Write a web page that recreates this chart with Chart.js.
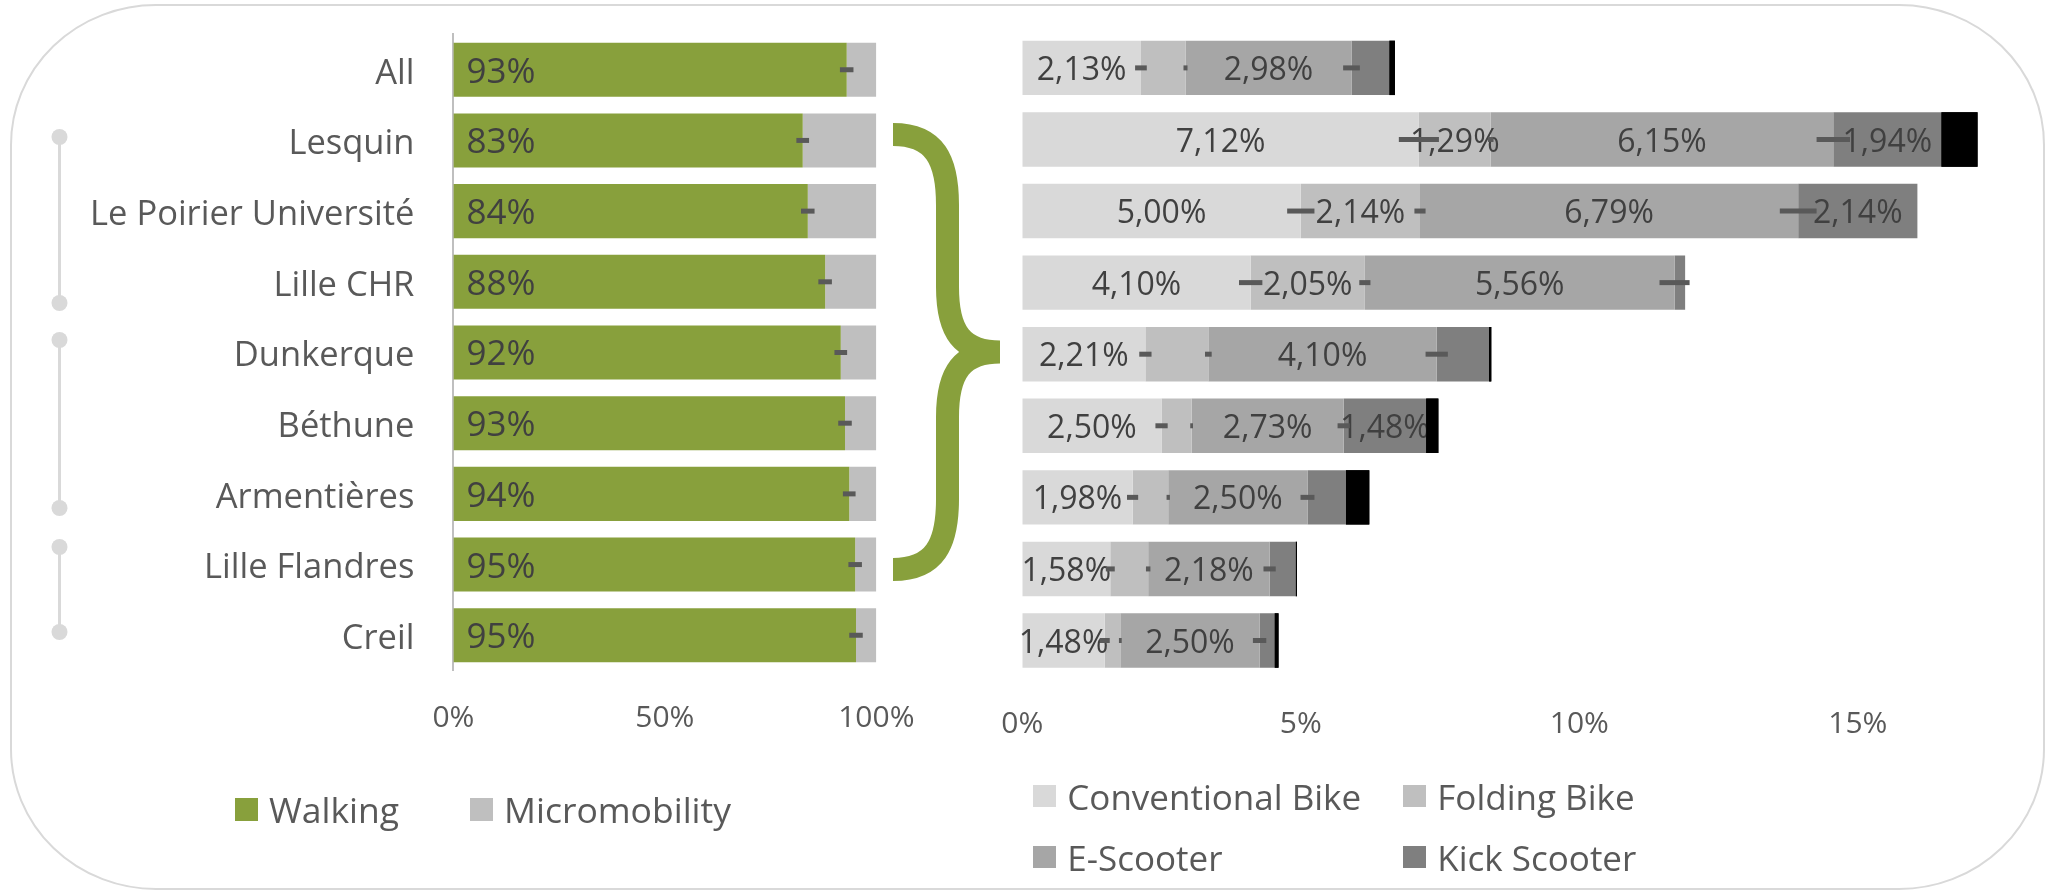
<!DOCTYPE html>
<html lang="en">
<head>
<meta charset="UTF-8">
<title>Walking and micromobility by station</title>
<script src="https://cdn.jsdelivr.net/npm/chart.js@4.4.1/dist/chart.umd.min.js"></script>
<style>
  html, body { margin: 0; padding: 0; background: #fff; }
  body { width: 2056px; height: 892px; position: relative; overflow: hidden; font-family: "Open Sans", sans-serif; color: #595959; }
  .layer { position: absolute; left: 0; top: 0; }
  .key { position: absolute; height: 50px; display: flex; align-items: center; white-space: nowrap; }
  .key span.box { display: inline-block; flex: none; }
</style>
</head>
<body>
<svg class="layer" width="2056" height="892">
  <!-- frame -->
  <rect x="11" y="5" width="2033" height="884" rx="145" ry="140" fill="none" stroke="#d9d9d9" stroke-width="2"/>
  <!-- station groups -->
  <g stroke="#d9d9d9" stroke-width="3" fill="#d9d9d9">
    <line x1="59.5" y1="137" x2="59.5" y2="303"/>
    <circle cx="59.5" cy="137" r="8" stroke="none"/>
    <circle cx="59.5" cy="303" r="8" stroke="none"/>
    <line x1="59.5" y1="340" x2="59.5" y2="508"/>
    <circle cx="59.5" cy="340" r="8" stroke="none"/>
    <circle cx="59.5" cy="508" r="8" stroke="none"/>
    <line x1="59.5" y1="547" x2="59.5" y2="632"/>
    <circle cx="59.5" cy="547" r="8" stroke="none"/>
    <circle cx="59.5" cy="632" r="8" stroke="none"/>
  </g>
  <!-- brace linking the micromobility share to its split -->
  <path d="M 893 134.5 C 935 134.5, 947.5 160, 947.5 205 L 947.5 287 C 947.5 332, 962 352, 1000 352 C 962 352, 947.5 372, 947.5 417 L 947.5 499 C 947.5 544, 935 569.5, 893 569.5"
        fill="none" stroke="#88a03c" stroke-width="23"/>
</svg>
<canvas id="shareChart" class="layer" width="2056" height="892"></canvas>
<canvas id="modeChart" class="layer" width="2056" height="892"></canvas>
<div id="keys"></div>
<script>
const categories = ['All', 'Lesquin', 'Le Poirier Université', 'Lille CHR', 'Dunkerque', 'Béthune', 'Armentières', 'Lille Flandres', 'Creil'];

// share of trips, %
const walking = [93.0, 82.6, 83.8, 87.9, 91.6, 92.6, 93.6, 95.0, 95.2];
const micromobility = [7.0, 17.4, 16.2, 12.1, 8.4, 7.4, 6.4, 5.0, 4.8];
const walkingErr = [1.6, 1.5, 1.6, 1.6, 1.5, 1.6, 1.5, 1.6, 1.6];

// micromobility split, % of all trips
const conventionalBike = [2.13, 7.12, 5.00, 4.10, 2.21, 2.50, 1.98, 1.58, 1.48];
const foldingBike = [0.80, 1.29, 2.14, 2.05, 1.13, 0.54, 0.64, 0.68, 0.28];
const eScooter = [2.98, 6.15, 6.79, 5.56, 4.10, 2.73, 2.50, 2.18, 2.50];
const kickScooter = [0.68, 1.94, 2.14, 0.19, 0.94, 1.48, 0.69, 0.47, 0.27];
const otherMode = [0.10, 0.65, 0, 0, 0.04, 0.22, 0.42, 0.02, 0.07];

const conventionalErr = [0.105, 0.36, 0.245, 0.21, 0.11, 0.11, 0.10, 0.08, 0.09];
const foldingErr = [0.036, 0.05, 0.10, 0.10, 0.06, 0.025, 0.03, 0.04, 0.025];
const eScooterErr = [0.15, 0.30, 0.33, 0.27, 0.20, 0.11, 0.125, 0.11, 0.12];

const shareTicks = [0, 50, 100];
const modeTicks = [0, 5, 10, 15];

const GREEN = '#88a03c';
const FONT = 'Open Sans';
const TEXT = '#595959';
const LABEL = '#404040';
const ERR = '#595959';

const shareKeys = [['Walking', GREEN], ['Micromobility', '#bfbfbf']];
const modeKeys = [['Conventional Bike', '#d9d9d9'], ['Folding Bike', '#bfbfbf'], ['E-Scooter', '#a6a6a6'], ['Kick Scooter', '#7f7f7f']];

function errorBar(ctx, xs, y, lo, hi) {
  ctx.beginPath();
  ctx.moveTo(xs.getPixelForValue(lo), y);
  ctx.lineTo(xs.getPixelForValue(hi), y);
  ctx.stroke();
}

// percentage inside the walking bar + error marker at its end
const shareOverlay = {
  id: 'shareOverlay',
  afterDatasetsDraw(chart) {
    const ctx = chart.ctx, xs = chart.scales.x;
    const bars = chart.getDatasetMeta(0).data;
    ctx.save();
    ctx.font = '35px "' + FONT + '"';
    ctx.fillStyle = LABEL;
    ctx.textAlign = 'left';
    ctx.textBaseline = 'middle';
    bars.forEach((bar, i) => {
      ctx.fillText(Math.round(walking[i]) + '%', bar.base + 13, bar.y + 3);
    });
    ctx.strokeStyle = ERR;
    ctx.lineWidth = 5;
    bars.forEach((bar, i) => {
      errorBar(ctx, xs, bar.y, walking[i] - walkingErr[i], walking[i] + walkingErr[i]);
    });
    ctx.restore();
  }
};

const modeSeries = [conventionalBike, foldingBike, eScooter, kickScooter, otherMode];
const modeErrors = [conventionalErr, foldingErr, eScooterErr];

const modeOverlay = {
  id: 'modeOverlay',
  afterDatasetsDraw(chart) {
    const ctx = chart.ctx, xs = chart.scales.x;
    ctx.save();
    ctx.font = '32px "' + FONT + '"';
    ctx.fillStyle = LABEL;
    ctx.textAlign = 'center';
    ctx.textBaseline = 'middle';
    for (let d = 0; d < 4; d++) {
      chart.getDatasetMeta(d).data.forEach((bar, i) => {
        const v = modeSeries[d][i];
        if (v < 1.2) return;
        ctx.fillText(v.toFixed(2).replace('.', ',') + '%', (bar.x + bar.base) / 2, bar.y + 3);
      });
    }
    ctx.strokeStyle = ERR;
    ctx.lineWidth = 5;
    categories.forEach((c, i) => {
      const y = chart.getDatasetMeta(0).data[i].y;
      let end = 0;
      modeErrors.forEach((err, d) => {
        end += modeSeries[d][i];
        errorBar(ctx, xs, y, end - err[i], end + err[i]);
      });
    });
    // the last stack segment sits above the labels
    chart.getDatasetMeta(4).data.forEach(el => el.draw(ctx));
    ctx.restore();
  }
};

const hidden = { legend: { display: false }, tooltip: { enabled: false } };

// fixed scale size, and no label overhang pushing the plot area in
function fixSize(w, h) {
  return s => {
    if (w !== null) s.width = w;
    if (h !== null) s.height = h;
    s.paddingTop = s.paddingBottom = s.paddingLeft = s.paddingRight = 0;
  };
}

new Chart(document.getElementById('shareChart'), {
  type: 'bar',
  data: {
    labels: categories,
    datasets: [
      { label: 'Walking', data: walking, backgroundColor: GREEN },
      { label: 'Micromobility', data: micromobility, backgroundColor: '#bfbfbf' }
    ]
  },
  options: {
    indexAxis: 'y',
    responsive: false,
    animation: false,
    devicePixelRatio: 1,
    layout: { padding: { top: 34.4, right: 2056 - 876.3, left: 0, bottom: 0 } },
    datasets: { bar: { barPercentage: 0.764, categoryPercentage: 1 } },
    plugins: hidden,
    scales: {
      x: {
        stacked: true, min: 0, max: 100,
        grid: { display: false, drawTicks: false },
        border: { display: false },
        afterBuildTicks: s => { s.ticks = shareTicks.map(v => ({ value: v })); },
        afterFit: fixSize(null, 892 - 670.6),
        ticks: { padding: 30, color: TEXT, font: { family: FONT, size: 30 }, callback: v => v + '%' }
      },
      y: {
        stacked: true,
        grid: { display: false, drawTicks: false },
        border: { display: true, color: '#bfbfbf', width: 2 },
        afterFit: fixSize(453.4, null),
        ticks: { padding: 39, labelOffset: 4, color: TEXT, font: { family: FONT, size: 34.5 } }
      }
    }
  },
  plugins: [shareOverlay]
});

new Chart(document.getElementById('modeChart'), {
  type: 'bar',
  data: {
    labels: categories,
    datasets: [
      { label: 'Conventional Bike', data: conventionalBike, backgroundColor: '#d9d9d9' },
      { label: 'Folding Bike', data: foldingBike, backgroundColor: '#bfbfbf' },
      { label: 'E-Scooter', data: eScooter, backgroundColor: '#a6a6a6' },
      { label: 'Kick Scooter', data: kickScooter, backgroundColor: '#7f7f7f' },
      { label: 'Other', data: otherMode, backgroundColor: '#000000' }
    ]
  },
  options: {
    indexAxis: 'y',
    responsive: false,
    animation: false,
    devicePixelRatio: 1,
    layout: { padding: { top: 32.1, right: 2056 - 1997.05, left: 1022.3, bottom: 0 } },
    datasets: { bar: { barPercentage: 0.76, categoryPercentage: 1 } },
    plugins: hidden,
    scales: {
      x: {
        stacked: true, min: 0, max: 17.5,
        grid: { display: false, drawTicks: false },
        border: { display: false },
        afterBuildTicks: s => { s.ticks = modeTicks.map(v => ({ value: v })); },
        afterFit: fixSize(null, 892 - 676.3),
        ticks: { padding: 30, color: TEXT, font: { family: FONT, size: 30 }, callback: v => v + '%' }
      },
      y: { stacked: true, display: false }
    }
  },
  plugins: [modeOverlay]
});

// legends
function addKey(name, colour, left, cy, box, gap, size) {
  const el = document.createElement('div');
  el.className = 'key';
  el.style.left = left + 'px';
  el.style.top = (cy - 25) + 'px';
  el.style.fontSize = size + 'px';
  el.innerHTML = '<span class="box" style="width:' + box + 'px;height:' + box + 'px;background:' + colour +
    ';margin-right:' + gap + 'px"></span><span>' + name + '</span>';
  document.getElementById('keys').appendChild(el);
}
addKey(shareKeys[0][0], shareKeys[0][1], 235, 809, 23, 11, 35.5);
addKey(shareKeys[1][0], shareKeys[1][1], 470, 809, 23, 11, 35.5);
modeKeys.forEach(([name, colour], i) => {
  addKey(name, colour, i % 2 ? 1403.3 : 1033.3, i < 2 ? 796 : 857, 22.5, 11.5, 35);
});
</script>
</body>
</html>
